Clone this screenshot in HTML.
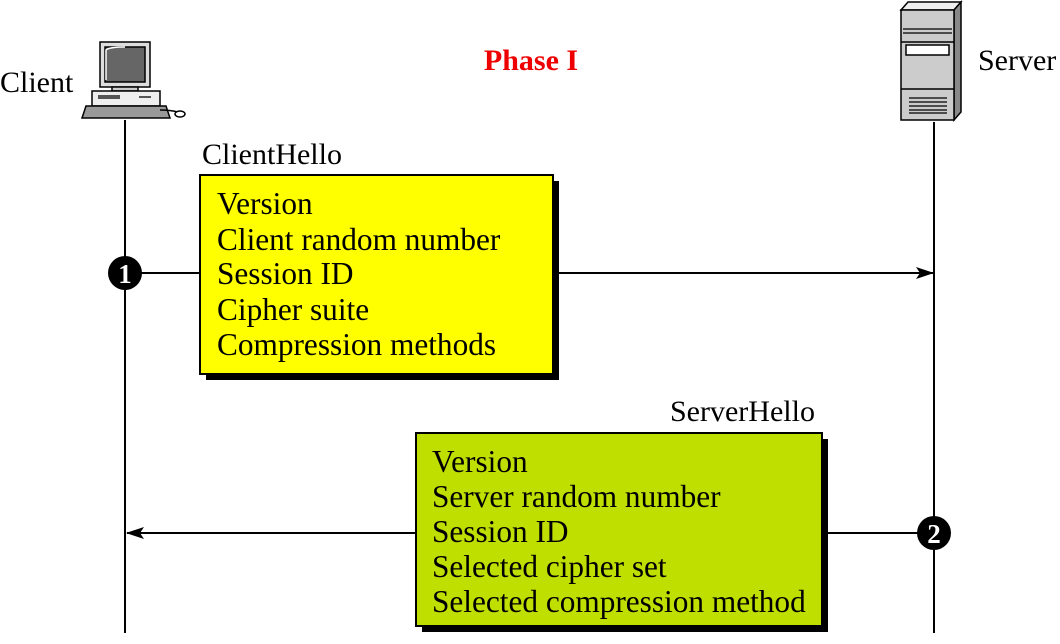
<!DOCTYPE html>
<html><head><meta charset="utf-8"><style>
body{margin:0;width:1060px;height:639px;background:#fff;overflow:hidden}
</style></head><body>
<svg width="1060" height="639" xmlns="http://www.w3.org/2000/svg" font-family="Liberation Serif, serif">
<defs><marker id="ah" markerWidth="18" markerHeight="12" refX="17" refY="6" orient="auto" markerUnits="userSpaceOnUse"><path d="M0,0 L18,6 L0,12 L4,6 Z" fill="#000"/></marker></defs>
<text x="0" y="92" font-size="30">Client</text>
<text x="978" y="70" font-size="30">Server</text>
<text x="531" y="70" font-size="30" font-weight="bold" fill="#e00" text-anchor="middle">Phase I</text>
<!-- client computer -->
<g stroke="#000" stroke-width="1.5">
<rect x="100" y="42" width="50" height="45" fill="#ddd"/>
<rect x="105" y="47" width="40" height="35" fill="#666"/>
<path d="M106,80 L106,50 Q109,47 125,47" stroke="#fff" fill="none"/>
<rect x="112" y="87" width="26" height="4" fill="#ccc"/>
<rect x="92" y="91" width="68" height="15" fill="#eee"/>
<rect x="98" y="95" width="22" height="4" fill="#555" stroke="none"/>
<rect x="139" y="96" width="12" height="2" fill="#555" stroke="none"/>
<path d="M86,106 L166,106 L170,118 L82,118 Z" fill="#999"/>
<path d="M160,110 Q170,110 178,112" fill="none"/>
<ellipse cx="180" cy="114" rx="5" ry="3" fill="#fff"/>
</g>
<!-- server -->
<g stroke="#000" stroke-width="1.5">
<path d="M901,10 L908,2 L961,2 L954,10 Z" fill="#eee"/>
<path d="M954,10 L961,2 L961,112 L954,120 Z" fill="#888"/>
<rect x="901" y="10" width="53" height="110" fill="#ccc"/>
<line x1="901" y1="42" x2="954" y2="42"/>
<line x1="901" y1="89" x2="954" y2="89"/>
<rect x="906" y="45" width="43" height="10" fill="#fff"/>
<g stroke-width="1.2"><line x1="903" y1="29" x2="952" y2="29"/><line x1="903" y1="33" x2="952" y2="33"/>
<line x1="909" y1="98" x2="947" y2="98"/><line x1="909" y1="102" x2="947" y2="102"/><line x1="909" y1="106" x2="947" y2="106"/><line x1="909" y1="110" x2="947" y2="110"/><line x1="909" y1="113" x2="947" y2="113"/></g>
</g>
<line x1="125" y1="120" x2="125" y2="633" stroke="#000" stroke-width="2"/>
<line x1="934" y1="122" x2="934" y2="633" stroke="#000" stroke-width="2"/>
<line x1="125" y1="273" x2="933" y2="273" stroke="#000" stroke-width="2" marker-end="url(#ah)"/>
<line x1="934" y1="533" x2="127" y2="533" stroke="#000" stroke-width="2" marker-end="url(#ah)"/>
<text x="202" y="164" font-size="30">ClientHello</text>
<rect x="206" y="181" width="353" height="199" fill="#000"/>
<rect x="200" y="175" width="353" height="199" fill="#ff0" stroke="#000" stroke-width="2"/>
<g font-size="31.3"><text x="217" y="214">Version</text><text x="217" y="250">Client random number</text><text x="217" y="284">Session ID</text><text x="217" y="320">Cipher suite</text><text x="217" y="355">Compression methods</text></g>
<text x="670" y="421" font-size="30">ServerHello</text>
<rect x="422" y="439" width="406" height="193" fill="#000"/>
<rect x="416" y="433" width="406" height="193" fill="#bfdf00" stroke="#000" stroke-width="2"/>
<g font-size="31.3"><text x="432" y="472">Version</text><text x="432" y="507">Server random number</text><text x="432" y="542">Session ID</text><text x="432" y="577">Selected cipher set</text><text x="432" y="612">Selected compression method</text></g>
<circle cx="125" cy="273" r="17" fill="#000"/><text x="125" y="283" font-size="27" font-weight="bold" fill="#fff" text-anchor="middle">1</text>
<circle cx="934" cy="533" r="17" fill="#000"/><text x="934" y="543" font-size="27" font-weight="bold" fill="#fff" text-anchor="middle">2</text>
</svg>
</body></html>
